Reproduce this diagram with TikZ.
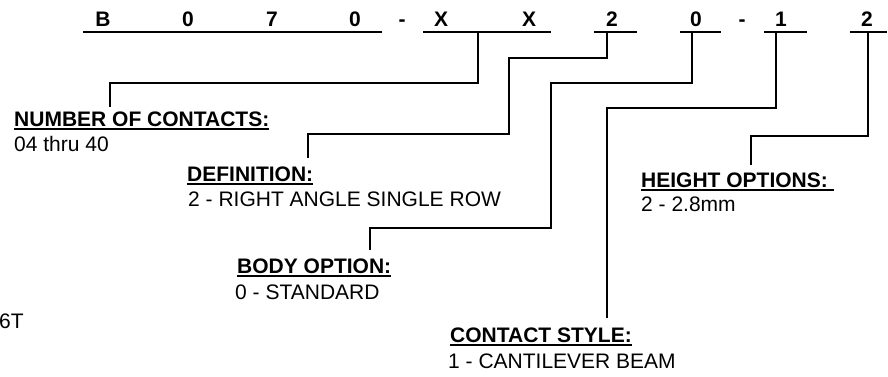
\documentclass[tikz,border=0pt]{standalone}
\usepackage{fontspec}
\setmainfont{Liberation Sans}
\begin{document}
\begin{tikzpicture}[x=1pt,y=-1pt,
  code/.style={font=\fontsize{21}{25}\selectfont\bfseries, inner sep=0pt, anchor=base},
  ttl/.style={font=\fontsize{21}{25}\selectfont\bfseries, inner sep=0pt, anchor=base west},
  desc/.style={font=\fontsize{21}{25}\selectfont, inner sep=0pt, anchor=base west},
  bar/.style={line width=2.6pt},
  lead/.style={line width=2pt},
  ul/.style={line width=1.6pt}]
\useasboundingbox (0,0) rectangle (888,376);

% top code characters
\node[code] (c1) at (103,26) {B};
\node[code] (c2) at (188,26) {0};
\node[code] (c3) at (272,26) {7};
\node[code] (c4) at (355,26) {0};
\node[code] (c5) at (402,26) {-};
\node[code] (c6) at (441,26) {X};
\node[code] (c7) at (529,26) {X};
\node[code] (c8) at (612,26) {2};
\node[code] (c9) at (696,26) {0};
\node[code] (c10) at (742,26) {-};
\node[code] (c11) at (781,26) {1};
\node[code] (c12) at (867,26) {2};

% underlines of code groups
\draw[bar] (83,32) -- (382,32);
\draw[bar] (423,32) -- (551,32);
\draw[bar] (594,32) -- (637,32);
\draw[bar] (680,32) -- (721,32);
\draw[bar] (764,32) -- (807,32);
\draw[bar] (850,32) -- (887,32);

% junction points on the bars
\coordinate (j1) at (478,32);
\coordinate (j2) at (607,32);
\coordinate (j3) at (692,32);
\coordinate (j4) at (776,32);
\coordinate (j5) at (868,32);

% labels
\node[ttl] (t1) at (14,126) {NUMBER OF CONTACTS:};
\node[desc] (d1) at (14,151) {04 thru 40};
\node[ttl] (t2) at (187,181) {DEFINITION:};
\node[desc] (d2) at (188,206) {2 - RIGHT ANGLE SINGLE ROW};
\node[ttl] (t3) at (237,273) {BODY OPTION:};
\node[desc] (d3) at (235,299) {0 - STANDARD};
\node[ttl] (t4) at (450,342) {CONTACT STYLE:};
\node[desc] (d4) at (448,368) {1 - CANTILEVER BEAM};
\node[ttl] (t5) at (641,187) {HEIGHT OPTIONS:};
\node[desc] (d5) at (641,211) {2 - 2.8mm};
\node[desc] (x6) at (-1,328) {6T};

% label underlines
\foreach \t in {t1,t2,t3,t4}
  \draw[ul] ([yshift=-3pt]\t.base west) -- ([yshift=-3pt]\t.base east);
\draw[ul] ([yshift=-3pt]t5.base west) -- ([yshift=-3pt,xshift=6pt]t5.base east);

% leader end points
\coordinate (e1) at (110,107);
\coordinate (e2) at (308,158);
\coordinate (e3) at (370,250);
\coordinate (e4) at (607,318);
\coordinate (e5) at (751,165);
\coordinate (b2) at (509,134);
\coordinate (b3) at (551,228);

% leaders
\draw[lead] (j1) -- ++(0,51) -| (e1);
\draw[lead] (j2) -- ++(0,26) -| (b2) -| (e2);
\draw[lead] (j3) -- ++(0,51) -| (b3) -| (e3);
\draw[lead] (j4) -- ++(0,76) -| (e4);
\draw[lead] (j5) -- ++(0,104) -| (e5);
\end{tikzpicture}
\end{document}
